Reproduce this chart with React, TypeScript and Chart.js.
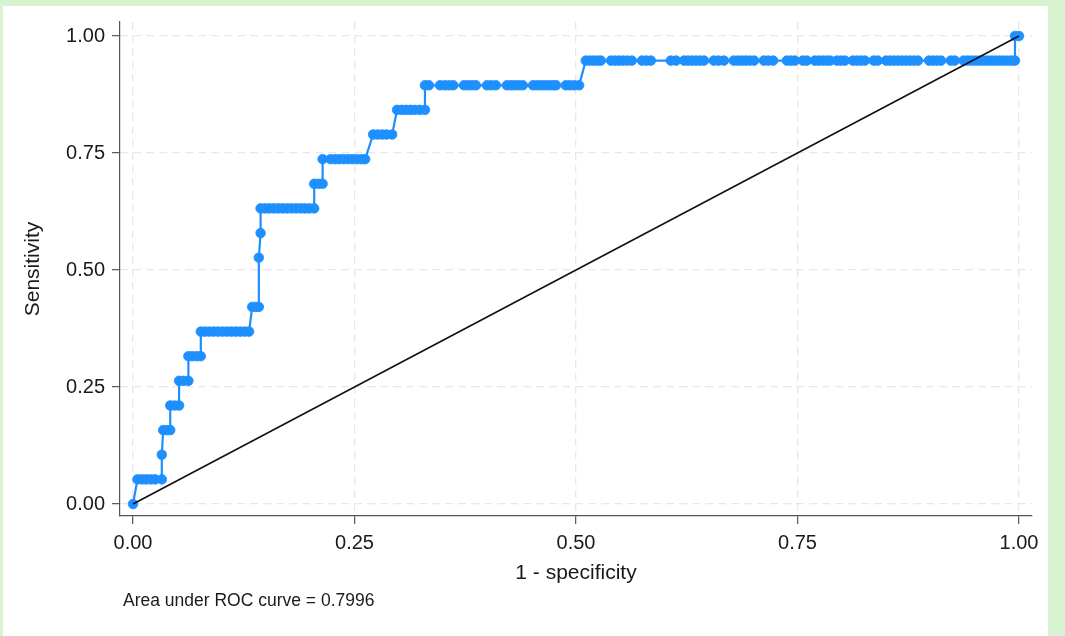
import React, { useEffect, useRef } from 'react';
import { Chart, registerables } from 'chart.js';

Chart.register(...registerables);

const FONT = '"Liberation Sans", Arial, Helvetica, sans-serif';

const xTickValues = [0, 0.25, 0.5, 0.75, 1];
const yTickValues = [0, 0.25, 0.5, 0.75, 1];
const xTitle = '1 - specificity';
const yTitle = 'Sensitivity';
const aucNote = 'Area under ROC curve = 0.7996';

// sensitivity (true-positive rate) of each step of the ROC curve
const sensitivityLevels = [
  0, 0.0526, 0.1053, 0.1579, 0.2105, 0.2632, 0.3158, 0.3684, 0.4211, 0.5263,
  0.5789, 0.6316, 0.6842, 0.7368, 0.7895, 0.8421, 0.8947, 0.9474, 1.0,
];

// 1 - specificity of the points at each sensitivity level
const fprAtLevel = [
  [0],
  [0.005, 0.01, 0.015, 0.02, 0.025, 0.0325],
  [0.0325],
  [0.034, 0.038, 0.042],
  [0.042, 0.047, 0.052],
  [0.052, 0.057, 0.0625],
  [0.0625, 0.067, 0.072, 0.0765],
  [0.0765, 0.081, 0.086, 0.091, 0.096, 0.101, 0.106, 0.111, 0.116, 0.121, 0.126, 0.131],
  [0.1345, 0.1385, 0.142],
  [0.142],
  [0.144],
  [0.144, 0.149, 0.154, 0.159, 0.164, 0.169, 0.174, 0.179, 0.184, 0.189, 0.194, 0.199, 0.2045],
  [0.2045, 0.2095, 0.214],
  [0.214, 0.223, 0.228, 0.233, 0.238, 0.243, 0.248, 0.253, 0.258, 0.262],
  [0.271, 0.276, 0.281, 0.286, 0.2925],
  [0.298, 0.303, 0.308, 0.313, 0.318, 0.3235, 0.3295],
  [
    0.3295, 0.334, 0.3465, 0.352, 0.357, 0.3615, 0.3735, 0.378, 0.3825, 0.387,
    0.3995, 0.4045, 0.4095, 0.422, 0.4265, 0.431, 0.4355, 0.44, 0.4515, 0.456,
    0.4605, 0.465, 0.4695, 0.474, 0.4775, 0.4885, 0.493, 0.498, 0.5035,
  ],
  [
    0.511, 0.5155, 0.52, 0.5245, 0.528, 0.5395, 0.544, 0.5485, 0.553, 0.558,
    0.563, 0.5745, 0.5795, 0.5845, 0.607, 0.613, 0.622, 0.6265, 0.631, 0.6355,
    0.64, 0.6445, 0.6555, 0.661, 0.667, 0.678, 0.6825, 0.687, 0.6915, 0.696,
    0.701, 0.712, 0.717, 0.7225, 0.738, 0.7425, 0.747, 0.756, 0.7605, 0.7695,
    0.774, 0.7785, 0.783, 0.787, 0.7945, 0.799, 0.8035, 0.8125, 0.817, 0.8215,
    0.826, 0.836, 0.8405, 0.85, 0.8545, 0.859, 0.8635, 0.868, 0.8725, 0.877,
    0.8815, 0.886, 0.8985, 0.903, 0.9075, 0.912, 0.923, 0.9275, 0.9375, 0.942,
    0.9465, 0.951, 0.9555, 0.96, 0.9645, 0.969, 0.9735, 0.978, 0.9825, 0.987,
    0.9915, 0.9955,
  ],
  [0.9955, 1.0],
];

const diagonalX = [0, 1];
const diagonalY = [0, 1];

export default function App() {
  const canvasRef = useRef<HTMLCanvasElement | null>(null);

  useEffect(() => {
    if (!canvasRef.current) return;
    const rocPoints = sensitivityLevels.flatMap((s, i) =>
      fprAtLevel[i].map((x) => ({ x, y: s }))
    );
    const diagPoints = diagonalX.map((x, i) => ({ x, y: diagonalY[i] }));

    const chart = new Chart(canvasRef.current, {
      type: 'scatter',
      data: {
        datasets: [
          {
            label: 'Reference',
            data: diagPoints,
            showLine: true,
            borderColor: '#111111',
            borderWidth: 1.6,
            pointRadius: 0,
            pointHoverRadius: 0,
          },
          {
            label: 'ROC',
            data: rocPoints,
            showLine: true,
            borderColor: '#1e8fff',
            borderWidth: 2.2,
            pointRadius: 4.8,
            pointBorderWidth: 0.8,
            pointBorderColor: '#1e8fff',
            pointBackgroundColor: '#1e8fff',
            pointHoverRadius: 4.8,
          },
        ],
      },
      options: {
        animation: false,
        responsive: false,
        devicePixelRatio: 1,
        layout: { padding: { top: 22, right: 33, bottom: 0, left: 0 } },
        plugins: {
          legend: { display: false },
          tooltip: { enabled: false },
        },
        scales: {
          x: {
            type: 'linear',
            min: -0.0147,
            max: 1.0147,
            afterBuildTicks: (s: any) => {
              s.ticks = xTickValues.map((v) => ({ value: v }));
            },
            afterFit: (s: any) => {
              s.height = 120;
            },
            ticks: {
              callback: (v: any) => Number(v).toFixed(2),
              font: { family: FONT, size: 20 },
              color: '#1a1a1a',
              padding: 7,
              maxRotation: 0,
              autoSkip: false,
            },
            grid: {
              color: '#e8e8e8',
              lineWidth: 1.3,
              tickLength: 8,
              tickColor: '#555555',
              tickWidth: 1.2,
            },
            border: { display: true, color: '#555555', width: 1.2, dash: [8, 5] },
            title: {
              display: true,
              text: xTitle,
              font: { family: FONT, size: 21 },
              color: '#1a1a1a',
              padding: { top: 0, bottom: 50 },
            },
          },
          y: {
            type: 'linear',
            min: -0.0256,
            max: 1.0299,
            afterBuildTicks: (s: any) => {
              s.ticks = yTickValues.map((v) => ({ value: v }));
            },
            afterFit: (s: any) => {
              s.width = 120;
            },
            ticks: {
              callback: (v: any) => Number(v).toFixed(2),
              font: { family: FONT, size: 20 },
              color: '#1a1a1a',
              padding: 7,
              autoSkip: false,
            },
            grid: {
              color: '#e8e8e8',
              lineWidth: 1.3,
              tickLength: 8,
              tickColor: '#555555',
              tickWidth: 1.2,
            },
            border: { display: true, color: '#555555', width: 1.2, dash: [8, 5] },
            title: {
              display: true,
              text: yTitle,
              font: { family: FONT, size: 21 },
              color: '#1a1a1a',
              padding: { top: 21, bottom: 0 },
            },
          },
        },
      },
    } as any);

    return () => {
      chart.destroy();
    };
  }, []);

  return (
    <div
      style={{
        position: 'fixed',
        left: 0,
        top: 0,
        width: 1065,
        height: 636,
        background: '#d9f2d0',
        overflow: 'hidden',
      }}
    >
      <div
        style={{
          position: 'absolute',
          left: 3,
          top: 6,
          width: 1045,
          height: 630,
          background: '#ffffff',
        }}
      />
      <canvas
        ref={canvasRef}
        width={1065}
        height={636}
        style={{ position: 'absolute', left: 0, top: 0, display: 'block' }}
      />
      <div
        style={{
          position: 'absolute',
          left: 123,
          top: 590,
          fontFamily: FONT,
          fontSize: 17.5,
          lineHeight: '20px',
          color: '#1a1a1a',
          whiteSpace: 'nowrap',
        }}
      >
        {aucNote}
      </div>
    </div>
  );
}
